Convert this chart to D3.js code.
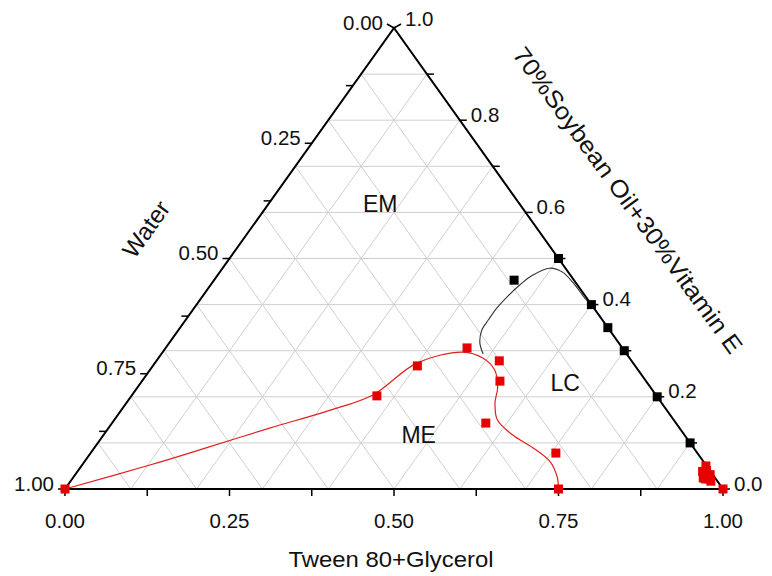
<!DOCTYPE html>
<html><head><meta charset="utf-8">
<script src="https://cdn.jsdelivr.net/npm/d3@7"></script>
<style>html,body{margin:0;padding:0;background:#fff}svg{display:block}text{font-family:"Liberation Sans",Arial,sans-serif;fill:#111}</style>
</head><body><svg id="c" width="772" height="576"></svg>
<script>
// compositions are [tween80+glycerol, water, oil(70%soybean+30%VitE)]
const bottomTicks = [0, 0.25, 0.5, 0.75, 1];
const bottomLabels = ["0.00", "0.25", "0.50", "0.75", "1.00"];
const leftTicks = [0, 0.25, 0.5, 0.75, 1];
const leftLabels = ["0.00", "0.25", "0.50", "0.75", "1.00"];
const rightTicks = [0, 0.2, 0.4, 0.6, 0.8, 1];
const rightLabels = ["0.0", "0.2", "0.4", "0.6", "0.8", "1.0"];
const gridLevels = [0.1,0.2,0.3,0.4,0.5,0.6,0.7,0.8,0.9];

const blackPoints = [
  [0.50,0.00,0.50],[0.456,0.091,0.453],[0.60,0.00,0.40],[0.65,0.00,0.35],
  [0.70,0.00,0.30],[0.80,0.00,0.20],[0.90,0.00,0.10]
];
const blackCurve = [
  [0.489,0.218,0.293],[0.472,0.211,0.317],[0.461,0.194,0.345],[0.460,0.173,0.367],
  [0.460,0.147,0.393],[0.464,0.117,0.419],[0.470,0.087,0.443],[0.479,0.057,0.464],
  [0.497,0.024,0.479],[0.520,0.009,0.471],[0.549,0.004,0.447],[0.583,0.003,0.414],
  [0.600,0.000,0.400]
];
const redPoints = [
  [0.00,1.00,0.00],[0.373,0.425,0.202],[0.402,0.331,0.267],[0.458,0.236,0.306],
  [0.521,0.201,0.278],[0.544,0.222,0.234],[0.568,0.289,0.143],[0.707,0.215,0.078],
  [0.75,0.25,0.00],[1.00,0.00,0.00]
];
const redCluster = [
  [0.949,0.001,0.050],[0.953,0.010,0.037],[0.958,0.018,0.024],[0.966,0.012,0.022],
  [0.973,0.010,0.017],[0.960,0.012,0.028],[0.955,0.005,0.040],[0.965,0.004,0.031],
  [0.950,0.012,0.038],[0.962,0.016,0.022]
];
const redCurve = [
  [0.000,1.000,0.000],[0.103,0.845,0.052],[0.166,0.747,0.087],[0.245,0.623,0.132],
  [0.314,0.517,0.169],[0.366,0.430,0.204],[0.398,0.329,0.273],[0.456,0.247,0.297],
  [0.493,0.223,0.284],[0.524,0.218,0.258],[0.547,0.232,0.221],[0.560,0.253,0.187],
  [0.582,0.268,0.150],[0.622,0.261,0.117],[0.667,0.244,0.089],[0.708,0.233,0.059],
  [0.735,0.239,0.026],[0.750,0.250,0.000]
];
const regionLabels = [
  {text:"EM", c:[0.170,0.212,0.618]},
  {text:"ME", c:[0.479,0.404,0.117]},
  {text:"LC", c:[0.645,0.125,0.230]}
];
const titles = {bottom:"Tween 80+Glycerol", left:"Water", right:"70%Soybean Oil+30%Vitamin E"};

// layout
const BL = {x:65, y:489}, BR = {x:723, y:489}, TOP = {x:394, y:28};
const tx = d3.scaleLinear().domain([0,1]).range([0, BR.x-BL.x]);
const ox = d3.scaleLinear().domain([0,1]).range([0, TOP.x-BL.x]);
const oy = d3.scaleLinear().domain([0,1]).range([BL.y, TOP.y]);
const P = c => [BL.x + tx(c[0]) + ox(c[2]), oy(c[2])];

const svg = d3.select("#c");

// grid
const g = svg.append("g").attr("stroke","#cfcfcf").attr("stroke-width",1).attr("fill","none");
gridLevels.forEach(f => {
  const segs = [
    [[0,1-f,f],[1-f,0,f]],
    [[0,f,1-f],[1-f,f,0]],
    [[f,1-f,0],[f,0,1-f]]
  ];
  segs.forEach(s => g.append("line")
    .attr("x1",P(s[0])[0]).attr("y1",P(s[0])[1])
    .attr("x2",P(s[1])[0]).attr("y2",P(s[1])[1]));
});

// region text
svg.selectAll("text.reg").data(regionLabels).enter().append("text")
  .attr("class","reg").attr("x",d=>P(d.c)[0]).attr("y",d=>P(d.c)[1])
  .attr("text-anchor","middle").attr("dominant-baseline","central")
  .attr("font-size",23).text(d=>d.text);

// curves
const line = d3.line().x(d=>P(d)[0]).y(d=>P(d)[1]).curve(d3.curveCatmullRom.alpha(0.5));
svg.append("path").attr("d",line(redCurve)).attr("fill","none").attr("stroke","#e02020").attr("stroke-width",1.2);
svg.append("path").attr("d",line(blackCurve)).attr("fill","none").attr("stroke","#333").attr("stroke-width",1.1);

// axes frame
const ax = svg.append("g").attr("stroke","#000").attr("stroke-width",2).attr("fill","none");
ax.append("path").attr("d",`M${BL.x},${BL.y}L${BR.x},${BR.y}L${TOP.x},${TOP.y}Z`).attr("stroke-linejoin","miter");

// ticks
d3.range(0,1.0001,0.125).forEach(v => {
  const p = P([v,1-v,0]);
  ax.append("line").attr("x1",p[0]).attr("y1",p[1]).attr("x2",p[0]).attr("y2",p[1]+7).attr("stroke-width",1.5);
  const q = P([0,v,1-v]);
  ax.append("line").attr("x1",q[0]).attr("y1",q[1]).attr("x2",q[0]-7).attr("y2",q[1]-(v===0?4:0)).attr("stroke-width",1.5);
});
d3.range(0,1.0001,0.1).forEach(v => {
  const p = P([1-v,0,v]);
  ax.append("line").attr("x1",p[0]).attr("y1",p[1]).attr("x2",p[0]+7).attr("y2",p[1]-(v>0.99?4:0)).attr("stroke-width",1.5);
});

// tick labels
const fs = 20.5;
svg.selectAll("text.bt").data(bottomTicks).enter().append("text")
  .attr("x",(d)=>P([d,1-d,0])[0]).attr("y",BL.y+39).attr("text-anchor","middle")
  .attr("font-size",fs).text((d,i)=>bottomLabels[i]);
svg.selectAll("text.lt").data(leftTicks).enter().append("text")
  .attr("x",d=>P([0,d,1-d])[0]-11).attr("y",d=>P([0,d,1-d])[1]-6).attr("text-anchor","end")
  .attr("dominant-baseline","central").attr("font-size",fs).text((d,i)=>leftLabels[i]);
svg.selectAll("text.rt").data(rightTicks).enter().append("text")
  .attr("x",d=>P([1-d,0,d])[0]+11).attr("y",d=>P([1-d,0,d])[1]-(d>0.99?10:6)).attr("text-anchor","start")
  .attr("dominant-baseline","central").attr("font-size",fs).text((d,i)=>rightLabels[i]);

// titles
svg.append("text").attr("x",391).attr("y",567).attr("text-anchor","middle").attr("font-size",22)
  .attr("textLength",205).attr("lengthAdjust","spacingAndGlyphs").text(titles.bottom);
svg.append("text").attr("transform","translate(146,229) rotate(-54.5)").attr("text-anchor","middle")
  .attr("dominant-baseline","central").attr("font-size",24).text(titles.left);
svg.append("text").attr("transform","translate(628,200) rotate(54)").attr("text-anchor","middle")
  .attr("dominant-baseline","central").attr("font-size",24).attr("textLength",372).attr("lengthAdjust","spacingAndGlyphs").text(titles.right);

// points
const sq = (sel, data, size, color) => sel.selectAll(null).data(data).enter().append("rect")
  .attr("x",d=>P(d)[0]-size/2).attr("y",d=>P(d)[1]-size/2).attr("width",size).attr("height",size).attr("fill",color);
sq(svg, redCluster, 9, "#e60000");
sq(svg, redPoints, 9, "#e60000");
sq(svg, blackPoints, 9, "#000");
</script></body></html>
